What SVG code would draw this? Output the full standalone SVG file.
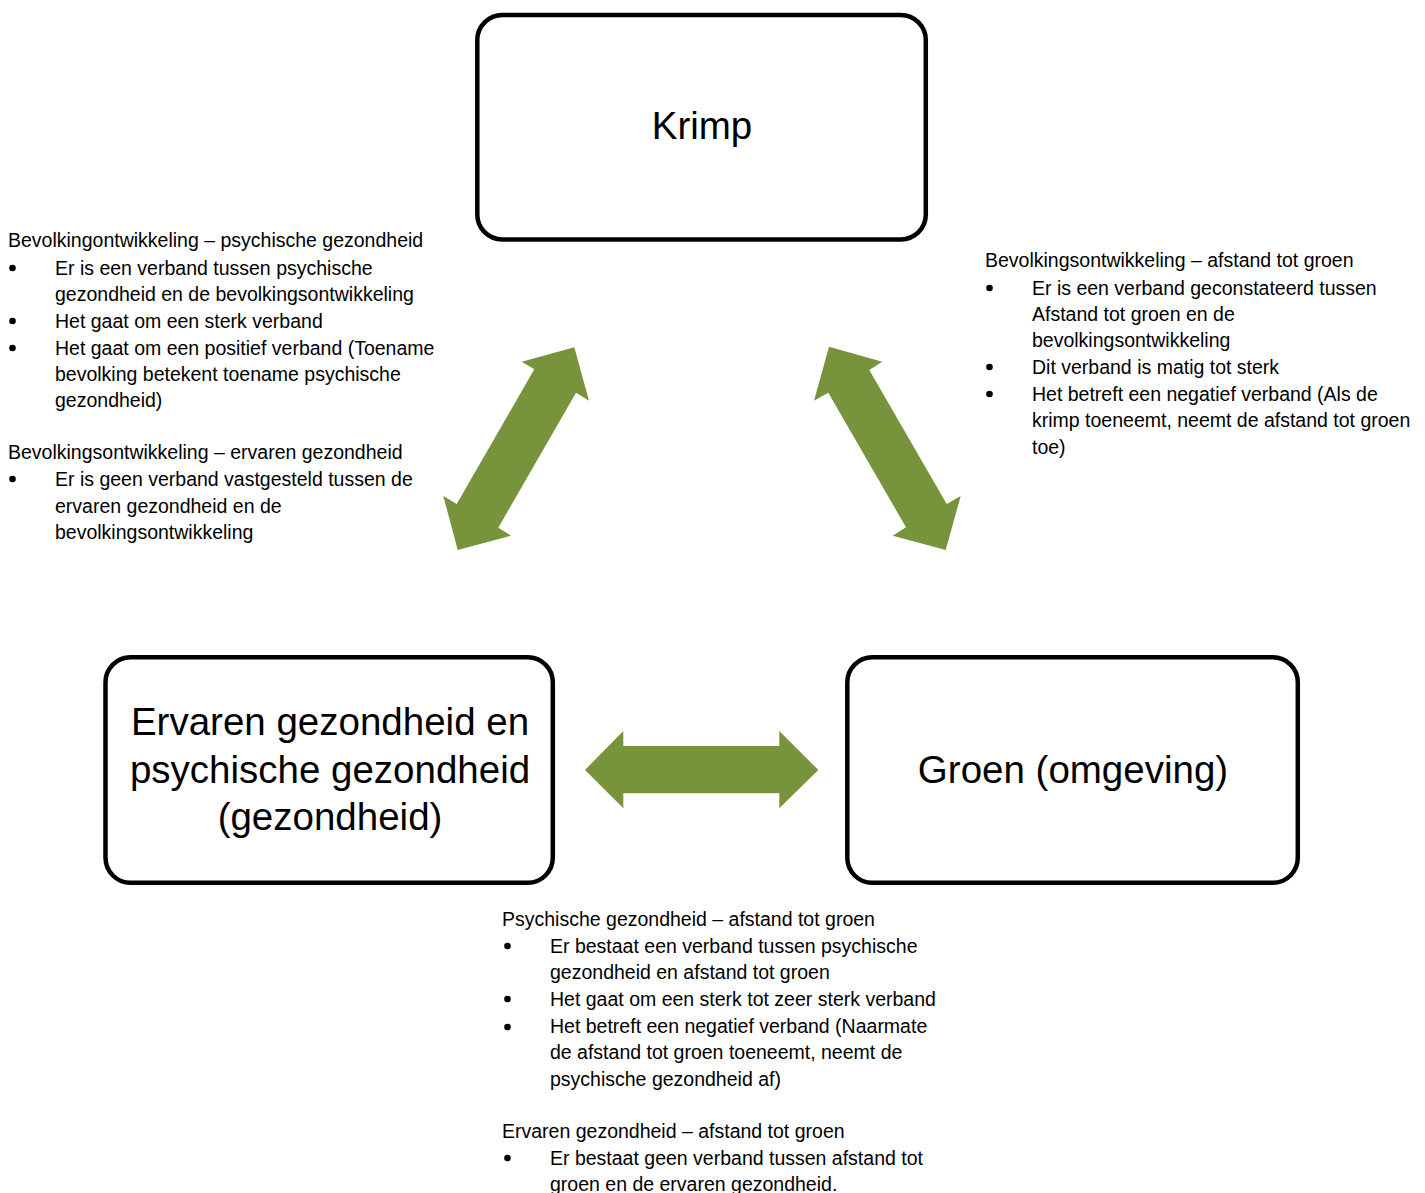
<svg xmlns="http://www.w3.org/2000/svg" width="1425" height="1193" viewBox="0 0 1425 1193">
<style>
.box{fill:#ffffff;stroke:#000000;stroke-width:4.5}
.big{font-family:"Liberation Sans",Arial,sans-serif;font-size:38.5px;fill:#000000;text-anchor:middle}
.t{font-family:"Liberation Sans",Arial,sans-serif;font-size:19.5px;fill:#000000}
.arr{fill:#77933C}
.b{fill:#000000}
</style>
<rect x="0" y="0" width="1425" height="1193" fill="#ffffff"/>
<g id="node-krimp">
<rect class="box" x="477.3" y="15" width="448.5" height="224.5" rx="25" ry="25"/>
<text class="big" x="702" y="139">Krimp</text>
</g>
<g id="node-gezondheid">
<rect class="box" x="105.5" y="657.3" width="447.3" height="225.5" rx="25" ry="25"/>
<text class="big" x="330" y="735">Ervaren gezondheid en</text>
<text class="big" x="330" y="783">psychische gezondheid</text>
<text class="big" x="330" y="830">(gezondheid)</text>
</g>
<g id="node-groen">
<rect class="box" x="847.3" y="657.3" width="450.5" height="225.5" rx="25" ry="25"/>
<text class="big" x="1073" y="783">Groen (omgeving)</text>
</g>
<g id="connectors">
<polygon class="arr" points="574.3,347.3 589,400.7 576,392.7 498.3,527.7 511,535.7 457.7,550 443.3,496 456.7,504 534.3,369.3 521.7,361.7"/>
<polygon class="arr" points="829,346.7 882.3,361.7 869.3,370 946.7,504 960.7,496 945.7,550 892.7,535.7 906,527.3 828.3,392.7 814,400.7"/>
<polygon class="arr" points="585,770 623.3,731 623.3,746 779.3,746 779.3,731 818.3,770 779.3,808.3 779.3,793.3 623.3,793.3 623.3,808.3"/>
</g>
<g id="note-left">
<text class="t" x="8" y="247">Bevolkingontwikkeling – psychische gezondheid</text>
<circle class="b" cx="12.5" cy="268" r="3.3"/>
<text class="t" x="55" y="275">Er is een verband tussen psychische</text>
<text class="t" x="55" y="301">gezondheid en de bevolkingsontwikkeling</text>
<circle class="b" cx="12.5" cy="321" r="3.3"/>
<text class="t" x="55" y="328">Het gaat om een sterk verband</text>
<circle class="b" cx="12.5" cy="348" r="3.3"/>
<text class="t" x="55" y="355">Het gaat om een positief verband (Toename</text>
<text class="t" x="55" y="381">bevolking betekent toename psychische</text>
<text class="t" x="55" y="407">gezondheid)</text>
<text class="t" x="8" y="459">Bevolkingsontwikkeling – ervaren gezondheid</text>
<circle class="b" cx="12.5" cy="479" r="3.3"/>
<text class="t" x="55" y="486">Er is geen verband vastgesteld tussen de</text>
<text class="t" x="55" y="513">ervaren gezondheid en de</text>
<text class="t" x="55" y="539">bevolkingsontwikkeling</text>
</g>
<g id="note-right">
<text class="t" x="985" y="267">Bevolkingsontwikkeling – afstand tot groen</text>
<circle class="b" cx="989.5" cy="288" r="3.3"/>
<text class="t" x="1032" y="295">Er is een verband geconstateerd tussen</text>
<text class="t" x="1032" y="321">Afstand tot groen en de</text>
<text class="t" x="1032" y="347">bevolkingsontwikkeling</text>
<circle class="b" cx="989.5" cy="367" r="3.3"/>
<text class="t" x="1032" y="374">Dit verband is matig tot sterk</text>
<circle class="b" cx="989.5" cy="394" r="3.3"/>
<text class="t" x="1032" y="401">Het betreft een negatief verband (Als de</text>
<text class="t" x="1032" y="427">krimp toeneemt, neemt de afstand tot groen</text>
<text class="t" x="1032" y="454">toe)</text>
</g>
<g id="note-bottom">
<text class="t" x="502" y="926">Psychische gezondheid – afstand tot groen</text>
<circle class="b" cx="507.5" cy="946" r="3.3"/>
<text class="t" x="550" y="953">Er bestaat een verband tussen psychische</text>
<text class="t" x="550" y="979">gezondheid en afstand tot groen</text>
<circle class="b" cx="507.5" cy="999" r="3.3"/>
<text class="t" x="550" y="1006">Het gaat om een sterk tot zeer sterk verband</text>
<circle class="b" cx="507.5" cy="1027" r="3.3"/>
<text class="t" x="550" y="1033">Het betreft een negatief verband (Naarmate</text>
<text class="t" x="550" y="1059">de afstand tot groen toeneemt, neemt de</text>
<text class="t" x="550" y="1086">psychische gezondheid af)</text>
<text class="t" x="502" y="1138">Ervaren gezondheid – afstand tot groen</text>
<circle class="b" cx="507.5" cy="1158" r="3.3"/>
<text class="t" x="550" y="1165">Er bestaat geen verband tussen afstand tot</text>
<text class="t" x="550" y="1191">groen en de ervaren gezondheid.</text>
</g>
</svg>
